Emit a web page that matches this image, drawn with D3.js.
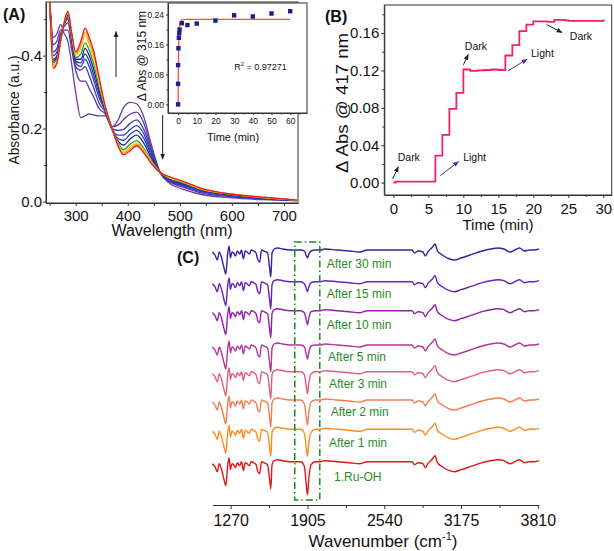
<!DOCTYPE html>
<html><head><meta charset="utf-8">
<script src="https://cdn.jsdelivr.net/npm/d3@7"></script>
<style>body{margin:0;background:#fff} svg text{font-family:Arial,"Liberation Sans",sans-serif;fill:#111}</style>
</head><body><svg id="c" width="614" height="551"></svg>
<script>
// ---------------- Panel A : UV-vis spectra ----------------
const waveA = [250,257,264,271,278,285,292,300,310,318,326,335,345,357,370,382,392,405,417,430,445,462,480,505,540,600,660,725];
const specColors = ["#6b3fa0","#5a35b0","#4538b8","#3040c0","#2a3cb0","#1a2590","#30a030","#e8d41c","#f8a020","#f01818"];
const spec0 = [.56,.45,.46,.485,.46,.44,.38,.30,.23,.235,.24,.237,.235,.235,.205,.225,.258,.272,.268,.235,.158,.08,.05,.034,.02,.01,.005,.002];
const spec1 = [.56,.43,.44,.47,.47,.47,.42,.36,.33,.33,.31,.285,.255,.24,.205,.21,.225,.24,.245,.218,.148,.08,.054,.04,.024,.013,.007,.003];
const spec2 = [.56,.41,.42,.46,.48,.49,.44,.37,.36,.37,.345,.31,.27,.245,.2,.195,.198,.215,.224,.2,.14,.08,.056,.043,.027,.015,.008,.003];
const spec3 = [.56,.40,.41,.455,.485,.50,.45,.38,.37,.39,.37,.33,.285,.248,.198,.182,.182,.198,.208,.188,.133,.08,.058,.046,.029,.016,.009,.003];
const spec4 = [.56,.39,.40,.45,.49,.505,.455,.385,.38,.405,.385,.345,.295,.25,.197,.172,.168,.185,.195,.175,.127,.08,.06,.048,.031,.017,.009,.003];
const spec5 = [.56,.385,.395,.445,.49,.51,.458,.39,.39,.42,.40,.36,.305,.252,.197,.165,.155,.172,.182,.162,.12,.08,.062,.05,.033,.018,.01,.004];
const spec6 = [.56,.38,.39,.44,.49,.515,.46,.395,.405,.435,.415,.375,.315,.255,.198,.16,.142,.158,.167,.148,.113,.08,.064,.052,.034,.019,.011,.004];
const spec7 = [.56,.375,.385,.44,.49,.518,.462,.40,.42,.455,.43,.39,.325,.257,.199,.155,.136,.15,.161,.143,.11,.08,.065,.054,.035,.02,.011,.004];
const spec8 = [.56,.37,.38,.44,.49,.52,.464,.405,.43,.465,.44,.40,.333,.258,.2,.152,.132,.145,.157,.139,.107,.08,.067,.055,.036,.02,.012,.004];
const spec9 = [.56,.365,.38,.44,.49,.522,.465,.41,.44,.475,.45,.41,.34,.26,.2,.15,.128,.14,.153,.135,.105,.08,.068,.056,.037,.02,.012,.004];
const spectraA = [spec0,spec1,spec2,spec3,spec4,spec5,spec6,spec7,spec8,spec9];
const aXTicks = [300,400,500,600,700];
const aYTicks = [0,0.2,0.4];
// inset
const insetT = [0,0,0,0.2,0.4,0.6,0.8,2,5,10,20,30,40,50,60];
const insetV = [0,0.055,0.105,0.15,0.178,0.19,0.2,0.217,0.212,0.216,0.224,0.238,0.235,0.243,0.249];
const fitT = [0,0.1,0.3,0.5,0.8,1.2,2,4,60];
const fitV = [0,0.07,0.15,0.19,0.21,0.221,0.226,0.227,0.227];
const insetXTicks = [0,10,20,30,40,50,60];
const insetYTicks = [0,0.08,0.16,0.24];
// arrows (wavelength, absorbance)
const arrowsA = [[377.5,0.341,377.5,0.466],[467,0.237,467,0.116]];

// ---------------- Panel B : step curve ----------------
const timeB = [0,0.3,6,7,8,9,10,11,12,13,14,15,16,17,18,19,20,21,22,23,24.5,25,30,30.2];
const absB  = [0,0.001,0.029,0.051,0.079,0.096,0.121,0.1195,0.12,0.1205,0.121,0.1205,0.136,0.147,0.162,0.169,0.1725,0.1725,0.172,0.174,0.1735,0.173,0.1735,0.1735];
const bXTicks = [0,5,10,15,20,25,30];
const bYTicks = [0,0.04,0.08,0.12,0.16];
const noteText = ["Dark","Light","Dark","Light","Dark"];
const noteT    = [2.2,11.6,11.8,21.3,26.8];
const noteV    = [0.0275,0.0275,0.146,0.138,0.156];
const noteArrow = [[-0.1,0.004,0.7,0.017],[6.7,0.0075,9.3,0.0225],[10,0.126,10.7,0.137],[16.4,0.1196,19.1,0.132],[21.9,0.169,24.1,0.1606]];
const noteColor = ["#222","#4a2f9a","#222","#4a2f9a","#222"];

// ---------------- Panel C : IR spectra ----------------
const wnBase1 = [1118,1140,1160,1175,1195,1215,1230,1245,1257,1268,1280,1295,1310,1325,1345,1360,1375,1390,1405,1425,1440,1460,1480,1495,1510,1525,1545,1575,1592,1602,1612,1630,1660,1700,1760,1800];
const dyBase1 = [-2,-5,-10,-2,-8,-18,-24,-4,4,-8,-2,-3,-6,-1,-4,0,-9,-1,-2,-4,0,-1,-3,-10,-12,0,-1,-3,-18,-27,-3,1,2,1,0,0];
const wnBand  = [1850,1880,1893,1905,1917,1935,1970];
const wnBase2 = [2010,2050,2150,2250,2340,2400,2540,2700,2770,2790,2820,2860,2880,2900,2940,2960,2980,3020,3080,3120,3175,3250,3350,3420,3480,3530,3580,3620,3660,3700,3740,3780,3820];
const dyBase2 = [0,1,0,-1,-2,0,0,0,0,-3,-1,-2,-6,-2,3,6,-1,-5,-9,-10,-8,-5,-1,1,2,1,-2,0,2,-1,0,0,1];
const irLabels  = ["1.Ru-OH","After 1 min","After 2 min","After 3 min","After 5 min","After 10 min","After 15 min","After 30 min"];
const irColors  = ["#e01515","#ff8c1a","#f37c55","#e0607a","#b3349a","#9420a8","#6a22b0","#3b1e9e"];
const irOffsets = [43.3,75.7,105,133.3,160,194.3,223.3,255];
const irBands = [
  [0,-5,-20,-33,-16,-3,0],
  [0,-4,-16,-27,-13,-3,0],
  [0,-4,-15,-25,-12,-2,0],
  [0,-3,-13,-22,-11,-2,0],
  [0,-2,-8,-14,-7,-1,0],
  [0,-2,-8,-14,-7,-1,0],
  [0,-2,-6,-10,-5,-1,0],
  [0,-1,-5,-8,-4,-1,0]];
const irLabelX = [2125,2083,2097,2083,2075,2064,2064,2064];
const irLabelY = [28.3,62.3,93.3,121,148.3,180.7,211,241.7];
const cXTicks = [1270,1905,2540,3175,3810];
const boxC = [1800,2007,5,263];

// =====================================================
const svg = d3.select('#c');
svg.append('rect').attr('width',614).attr('height',551).attr('fill','#fff');
const defs = svg.append('defs');
function marker(id,color){
  defs.append('marker').attr('id',id).attr('viewBox','0 0 10 10').attr('refX',9).attr('refY',5)
    .attr('markerWidth',6).attr('markerHeight',6).attr('orient','auto-start-reverse')
    .append('path').attr('d','M0,1 L10,5 L0,9 Z').attr('fill',color);
}
marker('mBlack','#222'); marker('mPurple','#4a2f9a');

function styleAxis(g,size){
  g.selectAll('path.domain').attr('stroke','#333');
  g.selectAll('.tick line').attr('stroke','#333');
  g.selectAll('.tick text').attr('font-size',size).attr('fill','#111')
    .attr('font-family','Arial, "Liberation Sans", sans-serif');
}
function minor(g,gen,vals,size){
  const m = g.append('g').call(gen.tickValues(vals).tickFormat('').tickSize(size));
  m.select('path.domain').remove();
  m.selectAll('.tick line').attr('stroke','#333');
}

// ---------- Panel A ----------
const xA = d3.scaleLinear().domain([243,727]).range([46,298]);
const yA = d3.scaleLinear().domain([-0.004,0.547]).range([203,2]);
defs.append('clipPath').attr('id','clipA').append('rect')
  .attr('x',xA.range()[0]).attr('y',yA.range()[1]).attr('width',xA.range()[1]-xA.range()[0]).attr('height',yA.range()[0]-yA.range()[1]);
const gA = svg.append('g');
const lineA = d3.line().x((d,i)=>xA(waveA[i])).y(d=>yA(d)).curve(d3.curveMonotoneX);
gA.append('g').attr('clip-path','url(#clipA)').selectAll('path').data(spectraA).join('path')
  .attr('d',lineA).attr('fill','none').attr('stroke',(d,i)=>specColors[i]).attr('stroke-width',1.3);
gA.append('rect').attr('x',46).attr('y',2).attr('width',252).attr('height',201).attr('fill','none').attr('stroke','#333');
const axAx = gA.append('g').attr('transform','translate(0,203)');
axAx.call(d3.axisBottom(xA).tickValues(aXTicks).tickSize(3).tickPadding(4).tickSizeOuter(0));
minor(axAx,d3.axisBottom(xA),[250,350,450,550,650],3);
styleAxis(axAx,15);
const axAy = gA.append('g').attr('transform','translate(46,0)');
axAy.call(d3.axisLeft(yA).tickValues(aYTicks).tickFormat(d3.format('.1f')).tickSize(3).tickPadding(1).tickSizeOuter(0));
minor(axAy,d3.axisLeft(yA),[0.1,0.3,0.5],2);
styleAxis(axAy,15);
gA.append('text').attr('x',172).attr('y',236).attr('text-anchor','middle').attr('font-size',16).text('Wavelength (nm)');
gA.append('text').attr('transform','translate(19,110) rotate(-90)').attr('text-anchor','middle').attr('font-size',14)
  .attr('textLength',109).attr('lengthAdjust','spacingAndGlyphs').text('Absorbance (a.u.)');
gA.append('text').attr('x',3).attr('y',20).attr('font-size',16).attr('font-weight','bold').text('(A)');
gA.selectAll('line.arr').data(arrowsA).join('line').attr('class','arr')
  .attr('x1',d=>xA(d[0])).attr('y1',d=>yA(d[1])).attr('x2',d=>xA(d[2])).attr('y2',d=>yA(d[3]))
  .attr('stroke','#222').attr('stroke-width',1).attr('marker-end','url(#mBlack)');

// inset
const xI = d3.scaleLinear().domain([-5.4,69]).range([168,307]);
const yI = d3.scaleLinear().domain([-0.023,0.271]).range([113,3]);
const gI = svg.append('g');
gI.append('rect').attr('x',168).attr('y',3).attr('width',139).attr('height',110).attr('fill','#fff').attr('stroke','#333');
gI.append('path').datum(fitT).attr('d',d3.line().x(d=>xI(d)).y((d,i)=>yI(fitV[i])))
  .attr('fill','none').attr('stroke','#ff4a4a').attr('stroke-width',1.3);
gI.selectAll('rect.pt').data(insetT).join('rect').attr('class','pt')
  .attr('x',d=>xI(d)-2.2).attr('y',(d,i)=>yI(insetV[i])-2.2).attr('width',4.4).attr('height',4.4).attr('fill','#1c1c8c');
const axIx = gI.append('g').attr('transform','translate(0,113)');
axIx.call(d3.axisBottom(xI).tickValues(insetXTicks).tickSize(2).tickPadding(3).tickSizeOuter(0));
minor(axIx,d3.axisBottom(xI),[5,15,25,35,45,55,65],1.5);
styleAxis(axIx,8.5);
const axIy = gI.append('g').attr('transform','translate(168,0)');
axIy.call(d3.axisLeft(yI).tickValues(insetYTicks).tickFormat(d3.format('.2f')).tickSize(2).tickPadding(2).tickSizeOuter(0));
minor(axIy,d3.axisLeft(yI),[0.04,0.12,0.2],1.5);
styleAxis(axIy,8.5);
gI.append('text').attr('x',233).attr('y',141).attr('text-anchor','middle').attr('font-size',11).text('Time (min)');
gI.append('text').attr('transform','translate(146,56) rotate(-90)').attr('text-anchor','middle').attr('font-size',12).text('\u0394 Abs @ 315 nm');
const r2 = gI.append('text').attr('x',xI(30)).attr('y',yI(0.092)).attr('font-size',9);
r2.append('tspan').text('R');
r2.append('tspan').attr('font-size',6).attr('dy',-4).text('2');
r2.append('tspan').attr('dy',4).text(' = 0.97271');

// ---------- Panel B ----------
const xB = d3.scaleLinear().domain([-1.3,31.2]).range([384.3,611.7]);
const yB = d3.scaleLinear().domain([-0.0132,0.190]).range([195,5]);
const gB = svg.append('g');
gB.append('rect').attr('x',384.3).attr('y',5).attr('width',227.4).attr('height',190).attr('fill','none').attr('stroke','#333');
gB.append('path').datum(timeB).attr('d',d3.line().x(d=>xB(d)).y((d,i)=>yB(absB[i])).curve(d3.curveStepAfter))
  .attr('fill','none').attr('stroke','#f5206a').attr('stroke-width',1.8);
const axBx = gB.append('g').attr('transform','translate(0,195)');
axBx.call(d3.axisBottom(xB).tickValues(bXTicks).tickSize(3).tickPadding(5).tickSizeOuter(0));
minor(axBx,d3.axisBottom(xB),[2.5,7.5,12.5,17.5,22.5,27.5],2);
styleAxis(axBx,15);
const axBy = gB.append('g').attr('transform','translate(384.3,0)');
axBy.call(d3.axisLeft(yB).tickValues(bYTicks).tickFormat(d3.format('.2f')).tickSize(3).tickPadding(2).tickSizeOuter(0));
minor(axBy,d3.axisLeft(yB),[0.02,0.06,0.1,0.14,0.18],2);
styleAxis(axBy,15);
gB.append('text').attr('x',498).attr('y',230).attr('text-anchor','middle').attr('font-size',15).text('Time (min)');
gB.append('text').attr('transform','translate(348,103) rotate(-90)').attr('text-anchor','middle').attr('font-size',16)
  .attr('textLength',140).attr('lengthAdjust','spacingAndGlyphs').text('\u0394 Abs @ 417 nm');
gB.append('text').attr('x',325).attr('y',22).attr('font-size',16).attr('font-weight','bold').text('(B)');
gB.selectAll('text.note').data(noteText).join('text').attr('class','note')
  .attr('x',(d,i)=>xB(noteT[i])).attr('y',(d,i)=>yB(noteV[i])).attr('dy','0.35em').attr('text-anchor','middle')
  .attr('font-size',10.5).attr('fill','#222').text(d=>d);
gB.selectAll('line.note').data(noteArrow).join('line').attr('class','note')
  .attr('x1',d=>xB(d[0])).attr('y1',d=>yB(d[1])).attr('x2',d=>xB(d[2])).attr('y2',d=>yB(d[3]))
  .attr('stroke',(d,i)=>noteColor[i]).attr('stroke-width',1)
  .attr('marker-end',(d,i)=>noteColor[i]==='#222'?'url(#mBlack)':'url(#mPurple)');

// ---------- Panel C ----------
const xC = d3.scaleLinear().domain([1118,3820]).range([212.3,539]);
const yC = d3.scaleLinear().domain([0,270]).range([505,235]);
const gC = svg.append('g');
const irTraces = irBands.map((band,k)=>{
  const pts = [];
  wnBase1.forEach((w,i)=>pts.push([w,irOffsets[k]+dyBase1[i]]));
  wnBand.forEach((w,i)=>pts.push([w,irOffsets[k]+band[i]]));
  wnBase2.forEach((w,i)=>pts.push([w,irOffsets[k]+dyBase2[i]]));
  return pts;
});
gC.selectAll('path.ir').data(irTraces).join('path').attr('class','ir')
  .attr('d',d3.line().x(d=>xC(d[0])).y(d=>yC(d[1])).curve(d3.curveMonotoneX))
  .attr('fill','none').attr('stroke',(d,i)=>irColors[i]).attr('stroke-width',1.4);
gC.append('rect').attr('x',xC(boxC[0])).attr('y',yC(boxC[3])).attr('width',xC(boxC[1])-xC(boxC[0])).attr('height',yC(boxC[2])-yC(boxC[3]))
  .attr('fill','none').attr('stroke','#1a8c1a').attr('stroke-width',1.5).attr('stroke-dasharray','7,3,1.5,3');
gC.selectAll('text.irl').data(irLabels).join('text').attr('class','irl')
  .attr('x',(d,i)=>xC(irLabelX[i])).attr('y',(d,i)=>yC(irLabelY[i])).attr('dy','0.35em')
  .attr('font-size',12).style('fill','#2a8a2a').text(d=>d);
const axCx = gC.append('g').attr('transform','translate(0,505)');
axCx.call(d3.axisBottom(xC).tickValues(cXTicks).tickFormat(d3.format('d')).tickSize(4).tickPadding(6).tickSizeOuter(0));
minor(axCx,d3.axisBottom(xC),[1587.5,2222.5,2857.5,3492.5],3);
styleAxis(axCx,16);
const tC = gC.append('text').attr('x',383).attr('y',547).attr('text-anchor','middle').attr('font-size',17);
tC.append('tspan').text('Wavenumber (cm');
tC.append('tspan').attr('font-size',11).attr('dy',-7).text('-1');
tC.append('tspan').attr('dy',7).text(')');
gC.append('text').attr('x',177).attr('y',263).attr('font-size',16).attr('font-weight','bold').text('(C)');
</script></body></html>
